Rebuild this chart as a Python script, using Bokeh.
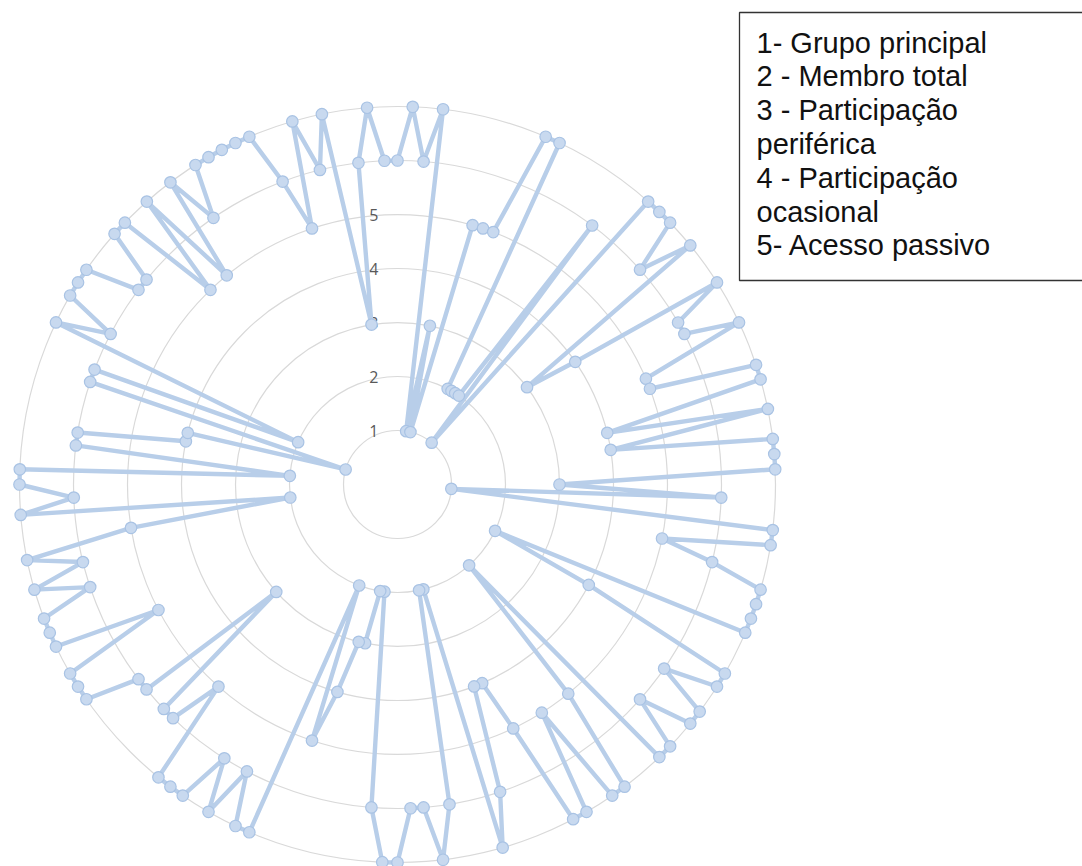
import numpy as np
from bokeh.plotting import figure
from bokeh.models import Range1d, ColumnDataSource
from bokeh.embed import file_html
from bokeh.resources import INLINE
from bokeh.core.properties import value

# ---- data (one value per respondent, clockwise from the top) ----
values = [6, 7, 6, 7, 1, 3, 1, 5, 5, 5, 7, 7, 2, 2, 2, 2, 6, 1, 7, 7,
          7, 6, 7, 3, 4, 7, 6, 6, 7, 5, 5, 7, 7, 4, 7, 4, 7, 7, 7, 3,
          6, 1, 7, 7, 5, 6, 7, 7, 7, 7, 2, 4, 7, 7, 6, 7, 7, 6, 7, 7,
          2, 5, 7, 7, 5, 7, 7, 5, 4, 4, 6, 7, 2, 2, 6, 7, 6, 6, 7, 7,
          6, 2, 2, 3, 3, 4, 5, 2, 7, 7, 6, 7, 6, 7, 7, 7, 5, 6, 6, 3,
          6, 6, 7, 7, 7, 5, 7, 7, 7, 6, 7, 6, 7, 5, 2, 7, 6, 7, 7, 2,
          6, 6, 4, 4, 1, 6, 6, 2, 7, 6, 7, 7, 7, 6, 6, 7, 7, 5, 7, 5,
          7, 6, 7, 7, 7, 7, 7, 6, 5, 7, 6, 7, 3, 6, 7, 6]
ring_levels = [1, 2, 3, 4, 5, 6, 7]
tick_values = [1, 2, 3, 4, 5]
tick_labels = ["1", "2", "3", "4", "5"]
legend_lines = ["1- Grupo principal", "2 - Membro total", "3 - Participação",
                "periférica", "4 - Participação", "ocasional", "5- Acesso passivo"]

# ---- layout ----
W, H = 1082, 866
PX = 54.0            # pixels per value unit
CX, CY = 397, 484    # radar centre in canvas pixels


def dx(px):
    return (px - CX) / PX


def dy(py):
    return (CY - py) / PX


p = figure(width=W, height=H, output_backend="svg", toolbar_location=None,
           x_range=Range1d(-CX / PX, (W - CX) / PX),
           y_range=Range1d(-(H - CY) / PX, CY / PX),
           x_axis_type=None, y_axis_type=None, min_border=0)
p.grid.visible = False
p.outline_line_color = None
p.background_fill_color = "white"
p.border_fill_color = "white"

# rings
p.circle(x=[0] * len(ring_levels), y=[0] * len(ring_levels), radius=ring_levels,
         fill_color=None, line_color="#d9d9d9", line_width=1.2)

# ring labels
p.text(x=[0] * len(tick_values), y=tick_values, text=tick_labels,
       x_offset=-19, text_align="right", text_baseline="middle",
       text_font=value("Open Sans"), text_font_size="16px", text_color="#595959")

# series
n = len(values)
theta = 2 * np.pi * np.arange(n) / n
v = np.array(values, dtype=float)
xs = v * np.sin(theta)
ys = v * np.cos(theta)
src = ColumnDataSource(dict(x=xs, y=ys))
p.line(x=np.append(xs, xs[0]), y=np.append(ys, ys[0]),
       line_color="#b8cee9", line_width=4.4, line_join="round")
p.scatter(x="x", y="y", source=src, size=11.5, marker="circle",
          fill_color="#c8d9ef", line_color="#a9c3e4", line_width=1.2)

# legend box (drawn as a glyph so the text sits on top of it)
p.quad(left=[dx(739)], right=[dx(1100)], top=[dy(12)], bottom=[dy(280)],
       fill_color="white", line_color="#333333", line_width=1.3)
ly = [dy(42 + 33.8 * k) for k in range(len(legend_lines))]
p.text(x=[dx(756)] * len(legend_lines), y=ly, text=legend_lines,
       text_align="left", text_baseline="middle",
       text_font=value("Liberation Sans"), text_font_size="29px", text_color="#111111")

open("out.html", "w").write(file_html(p, INLINE))
